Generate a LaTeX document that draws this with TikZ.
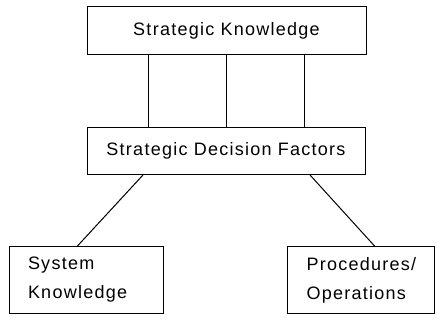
\documentclass[tikz,border=0pt]{standalone}
\usepackage{fontspec}
\setmainfont{Liberation Sans}[LetterSpace=7]
\begin{document}
\begin{tikzpicture}[x=1pt,y=-1pt,
  box/.style={draw=black, line width=1pt, rectangle, inner sep=0pt,
    font=\fontsize{18}{29}\selectfont},
  lbox/.style={box, align=left, inner xsep=19pt, anchor=center},
  link/.style={draw=black, line width=1pt}]
\useasboundingbox (0,0) rectangle (436,320);
\node[box, minimum width=279pt, minimum height=48pt] (top) at (226.5,31) {Strategic Knowledge};
\node[box, minimum width=278pt, minimum height=47pt] (mid) at (226,151) {Strategic Decision Factors};
\node[lbox, text width=116pt, minimum height=66pt] (sys) at (86,280) {System\\Knowledge};
\node[lbox, text width=109pt, minimum height=66pt] (proc) at (361,280) {Procedures/\\Operations};
\coordinate (c1) at (148,0);
\coordinate (c2) at (226,0);
\coordinate (c3) at (304,0);
\coordinate (d1) at (143,0);
\coordinate (d2) at (77,0);
\coordinate (d3) at (310,0);
\coordinate (d4) at (375,0);
\draw[link] (top.south -| c1) -- (mid.north -| c1);
\draw[link] (top.south -| c2) -- (mid.north -| c2);
\draw[link] (top.south -| c3) -- (mid.north -| c3);
\draw[link] (mid.south -| d1) -- (sys.north -| d2);
\draw[link] (mid.south -| d3) -- (proc.north -| d4);
\end{tikzpicture}
\end{document}
